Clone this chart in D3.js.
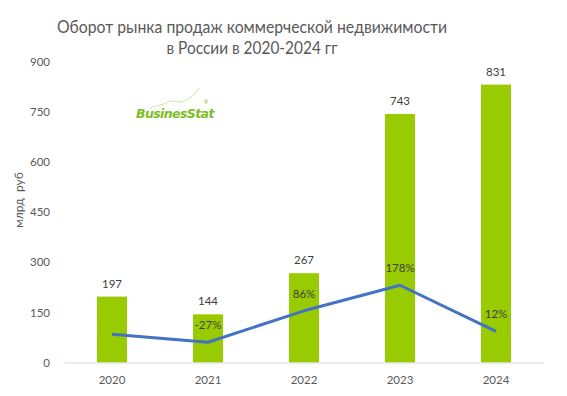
<!DOCTYPE html>
<html><head><meta charset="utf-8">
<script src="https://cdn.jsdelivr.net/npm/d3@7"></script>
<style>body{margin:0;background:#fff}svg{display:block}text{font-family:Lato,"Open Sans",sans-serif}</style>
</head><body>
<script>
const years = ["2020","2021","2022","2023","2024"];
const turnover = [197, 144, 267, 743, 831];
const growth = [2, -27, 86, 178, 12];
const growthLabels = [null, "-27%", "86%", "178%", "12%"];
const yTicks = [0,150,300,450,600,750,900];
const titleLines = ["Оборот рынка продаж коммерческой недвижимости", "в России в 2020-2024 гг"];
const yTitle = "млрд  руб";

const W=567,H=396;
const svg=d3.select("body").append("svg").attr("width",W).attr("height",H);
const x=d3.scaleBand().domain(years).range([64,544]).paddingInner(0.6875).paddingOuter(0.34375);
const y=d3.scaleLinear().domain([0,900]).range([362.5,61.5]);
const y2=d3.scaleLinear().domain([-100,983]).range([362.5,61.5]);
const txt="#595959";

const titleW=[390,171];
svg.selectAll(".title").data(titleLines).enter().append("text")
 .attr("x",252).attr("y",(d,i)=>33+i*21).attr("text-anchor","middle")
 .attr("font-size",17).attr("fill",txt)
 .attr("textLength",(d,i)=>titleW[i]).attr("lengthAdjust","spacingAndGlyphs").text(d=>d);

const ya=svg.append("g").attr("transform","translate(56,0)")
 .call(d3.axisLeft(y).tickValues(yTicks).tickSize(0).tickPadding(6));
ya.select(".domain").remove();
ya.selectAll("text").attr("font-size",11.5).attr("fill",txt).style("font-family","Lato,sans-serif");

svg.append("text").attr("transform","translate(23,200) rotate(-90)").attr("text-anchor","middle")
 .attr("font-size",12).attr("fill",txt).style("white-space","pre").text(yTitle);

svg.selectAll(".bar").data(turnover).enter().append("rect")
 .attr("x",(d,i)=>x(years[i])).attr("width",x.bandwidth())
 .attr("y",d=>y(d)).attr("height",d=>y(0)-y(d)).attr("fill","#99CC00");

const xa=svg.append("g").attr("transform","translate(0,362.5)")
 .call(d3.axisBottom(x).tickSize(0).tickPadding(13));
xa.select(".domain").attr("stroke","#D9D9D9").attr("stroke-width",1);
xa.selectAll("text").attr("font-size",11.5).attr("fill",txt).style("font-family","Lato,sans-serif");

svg.selectAll(".vl").data(turnover).enter().append("text")
 .attr("x",(d,i)=>x(years[i])+x.bandwidth()/2).attr("y",d=>y(d)-9)
 .attr("text-anchor","middle").attr("font-size",11.5).attr("fill","#404040").text(d=>d);

const line=d3.line().x((d,i)=>x(years[i])+x.bandwidth()/2).y(d=>y2(d));
svg.append("path").datum(growth).attr("d",line).attr("fill","none")
 .attr("stroke","#4472C4").attr("stroke-width",3).attr("stroke-linejoin","round");

svg.selectAll(".gl").data(growth.map((v,i)=>({v,i})).filter(d=>growthLabels[d.i])).enter().append("text")
 .attr("x",d=>x(years[d.i])+x.bandwidth()/2).attr("y",d=>y2(d.v)-13)
 .attr("text-anchor","middle").attr("font-size",11.5).attr("fill","#404040")
 .text(d=>growthLabels[d.i]);

// logo
const lg=svg.append("g");
lg.append("path").attr("d","M150,108 C158,104 162,106 168,102 C174,99 178,104 184,101 C190,98 194,96 199,88")
 .attr("fill","none").attr("stroke","#cfe6a0").attr("stroke-width",1);
lg.append("text").attr("x",136).attr("y",118).attr("font-size",12.5).attr("font-weight","bold")
 .attr("font-style","italic").attr("fill","#7DBE1E").attr("letter-spacing",-0.6)
 .style("font-family","'DejaVu Sans',sans-serif").text("BusinesStat");
lg.append("text").attr("x",204).attr("y",104).attr("font-size",5).attr("fill","#7DBE1E").text("®");
</script>
</body></html>
